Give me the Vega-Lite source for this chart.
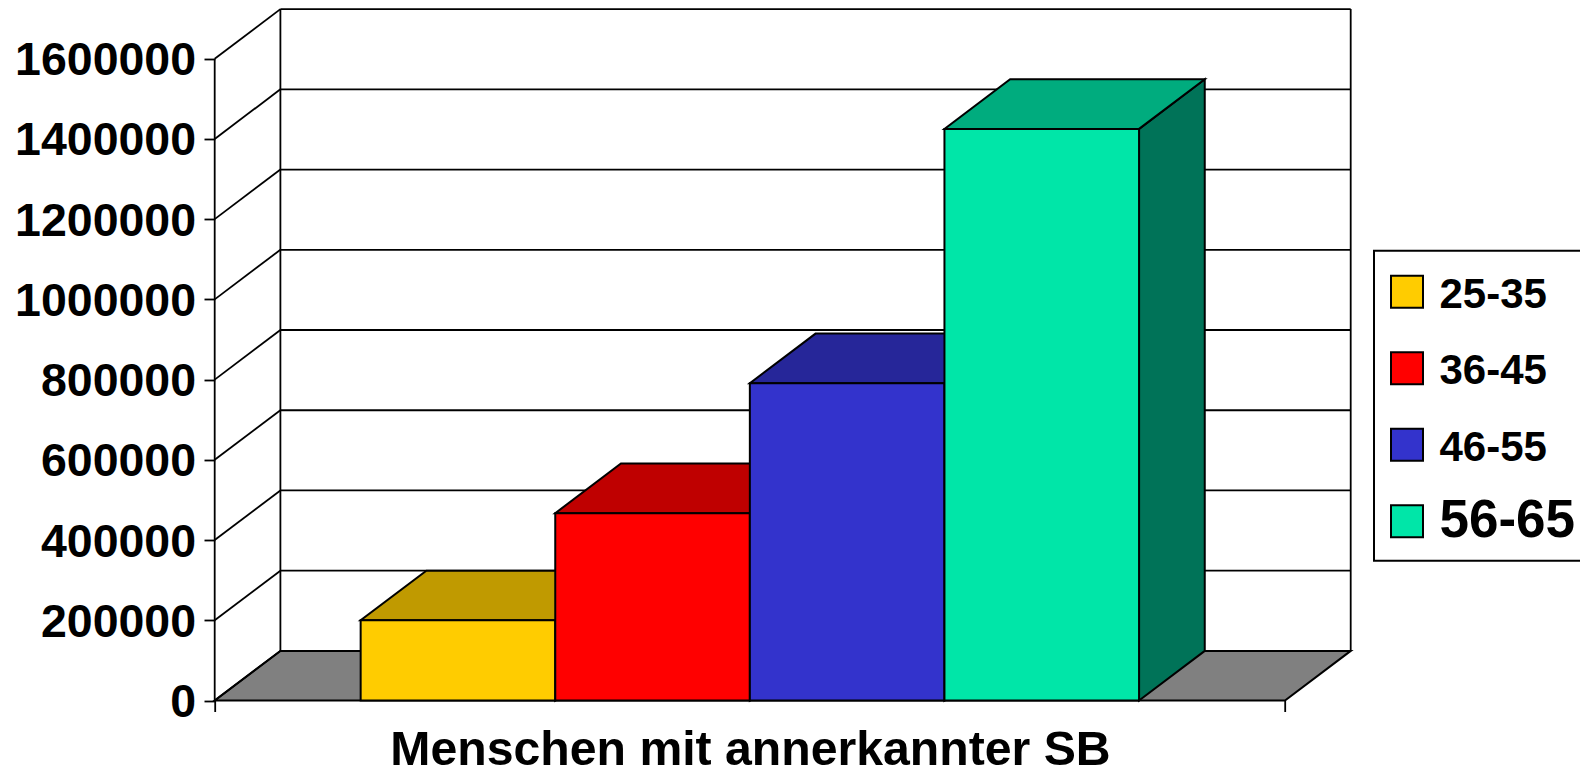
{
"$schema":"https://vega.github.io/schema/vega-lite/v6.json",
"width":1136,"height":691.5,
"autosize":{"type":"none"},
"padding":{"left":214.7,"top":9,"right":229.3,"bottom":73.5},
"background":"white",
"params":[{"name":"dx","value":0.3376},{"name":"dy","value":123650}],
"config":{"view":{"stroke":null},"font":"Liberation Sans"},
"datasets":{
"bars":[{"age":"25-35","order":1,"value":200000},{"age":"36-45","order":2,"value":467000},{"age":"46-55","order":3,"value":791000},{"age":"56-65","order":4,"value":1425000}],
"ticks":[{"tick":0},{"tick":200000},{"tick":400000},{"tick":600000},{"tick":800000},{"tick":1000000},{"tick":1200000},{"tick":1400000},{"tick":1600000}],
"posts":[{"post":0},{"post":1},{"post":2}],
"corners":[{"corner":0},{"corner":1},{"corner":2},{"corner":3}]
},
"encoding":{
"x":{"field":"xa","type":"quantitative","scale":{"domain":[0,5.8376],"nice":false,"zero":false},
"axis":{"values":[0,5.5],"labels":false,"domain":false,"grid":false,"tickSize":11,"tickColor":"black","tickWidth":1.8,
"title":"Menschen mit annerkannter SB","titleFont":"Liberation Sans","titleFontWeight":"bold","titleFontSize":48.2,"titleColor":"black","titleLimit":1200,"titleX":535.3,"titleY":50,"titleAnchor":"middle","titleAlign":"center","titleBaseline":"middle"}},
"y":{"field":"ya","type":"quantitative","stack":null,"scale":{"domain":[0,1723900],"nice":false,"zero":false},
"axis":{"values":[0,200000,400000,600000,800000,1000000,1200000,1400000,1600000],"format":"d","domain":false,"grid":false,"title":null,"tickSize":10.7,"tickColor":"black","tickWidth":1.8,"labelPadding":8.4,"labelOffset":2,"labelLimit":300,"labelFont":"Liberation Sans","labelFontWeight":"bold","labelFontSize":46.5,"labelColor":"black"}}
},
"layer":[
{"data":{"name":"corners"},
"transform":[{"calculate":"[0,dx,5.5,5.5+dx][datum.corner]","as":"xa"},{"calculate":"[0,0,0,dy][datum.corner]","as":"ya"},{"calculate":"[0,dy,dy,dy][datum.corner]","as":"yb"}],
"mark":{"type":"area","fill":"#808080","stroke":"black","strokeWidth":2},
"encoding":{"y2":{"field":"yb"}}},
{"data":{"name":"ticks"},
"transform":[{"calculate":"dx","as":"xa"},{"calculate":"5.5+dx","as":"xb"},{"calculate":"datum.tick+dy","as":"ya"}],
"mark":{"type":"rule","stroke":"black","strokeWidth":1.8},
"encoding":{"x2":{"field":"xb"}}},
{"data":{"name":"ticks"},
"transform":[{"calculate":"0","as":"xa"},{"calculate":"dx","as":"xb"},{"calculate":"datum.tick","as":"ya"},{"calculate":"datum.tick+dy","as":"yb"}],
"mark":{"type":"rule","stroke":"black","strokeWidth":1.8},
"encoding":{"x2":{"field":"xb"},"y2":{"field":"yb"}}},
{"data":{"name":"posts"},
"transform":[{"calculate":"[0,dx,5.5+dx][datum.post]","as":"xa"},{"calculate":"datum.post==0?0:dy","as":"ya"},{"calculate":"datum.ya+1600000","as":"yb"}],
"mark":{"type":"rule","stroke":"black","strokeWidth":1.8},
"encoding":{"y2":{"field":"yb"}}},
{"data":{"name":"bars"},
"transform":[{"calculate":"datum.order-0.25","as":"x0"},{"calculate":"datum.order+0.75","as":"x1"},
{"calculate":"[datum.x1,datum.x1+dx]","as":"xa"},{"calculate":"[0,dy]","as":"ya"},{"calculate":"[datum.value,datum.value+dy]","as":"yb"},
{"flatten":["xa","ya","yb"]}],
"mark":{"type":"area","stroke":"black","strokeWidth":2},
"encoding":{"y2":{"field":"yb"},"fill":{"field":"age","type":"nominal","legend":null,"scale":{"domain":["25-35","36-45","46-55","56-65"],"range":["#806600","#800000","#1A1A66","#007358"]}}}},
{"data":{"name":"bars"},
"transform":[{"calculate":"datum.order-0.25","as":"x0"},{"calculate":"datum.order+0.75","as":"x1"},
{"calculate":"[datum.x0,datum.x0+dx,datum.x1,datum.x1+dx]","as":"xa"},
{"calculate":"[datum.value,datum.value,datum.value,datum.value+dy]","as":"ya"},
{"calculate":"[datum.value,datum.value+dy,datum.value+dy,datum.value+dy]","as":"yb"},
{"flatten":["xa","ya","yb"]}],
"mark":{"type":"area","stroke":"black","strokeWidth":2},
"encoding":{"y2":{"field":"yb"},"fill":{"field":"age","type":"nominal","legend":null,"scale":{"domain":["25-35","36-45","46-55","56-65"],"range":["#C09A00","#BF0000","#262699","#00AC7E"]}}}},
{"data":{"name":"bars"},
"transform":[{"calculate":"datum.order-0.25","as":"xa"},{"calculate":"datum.order+0.75","as":"xb"},{"calculate":"datum.value","as":"ya"},{"calculate":"0","as":"yb"}],
"mark":{"type":"rect","stroke":"black","strokeWidth":2},
"encoding":{"x2":{"field":"xb"},"y2":{"field":"yb"},"fill":{"field":"age","type":"nominal","scale":{"domain":["25-35","36-45","46-55","56-65"],"range":["#FFCC00","#FF0000","#3333CC","#00E6A8"]},
"legend":{"orient":"none","legendX":1159.3,"legendY":241.7,"title":" ","titleFontSize":1,"titlePadding":7,"gridAlign":"all","symbolType":"square","symbolSize":1024,"symbolStrokeColor":"black","symbolStrokeWidth":2,"symbolOpacity":1,"labelFont":"Liberation Sans","labelFontWeight":"bold","labelFontSize":42,"labelColor":"black","labelOffset":11.5,"labelLimit":300,"rowPadding":23.5,"padding":12,"strokeColor":"black","fillColor":"white","encode":{"labels":{"update":{"fontSize":{"signal":"datum.label==='56-65'?53:42"},"dy":{"signal":"datum.label==='56-65'?0:3"}}},"legend":{"update":{"strokeWidth":{"value":2}}}}}}}}
],
"resolve":{"scale":{"fill":"independent"}}
}
